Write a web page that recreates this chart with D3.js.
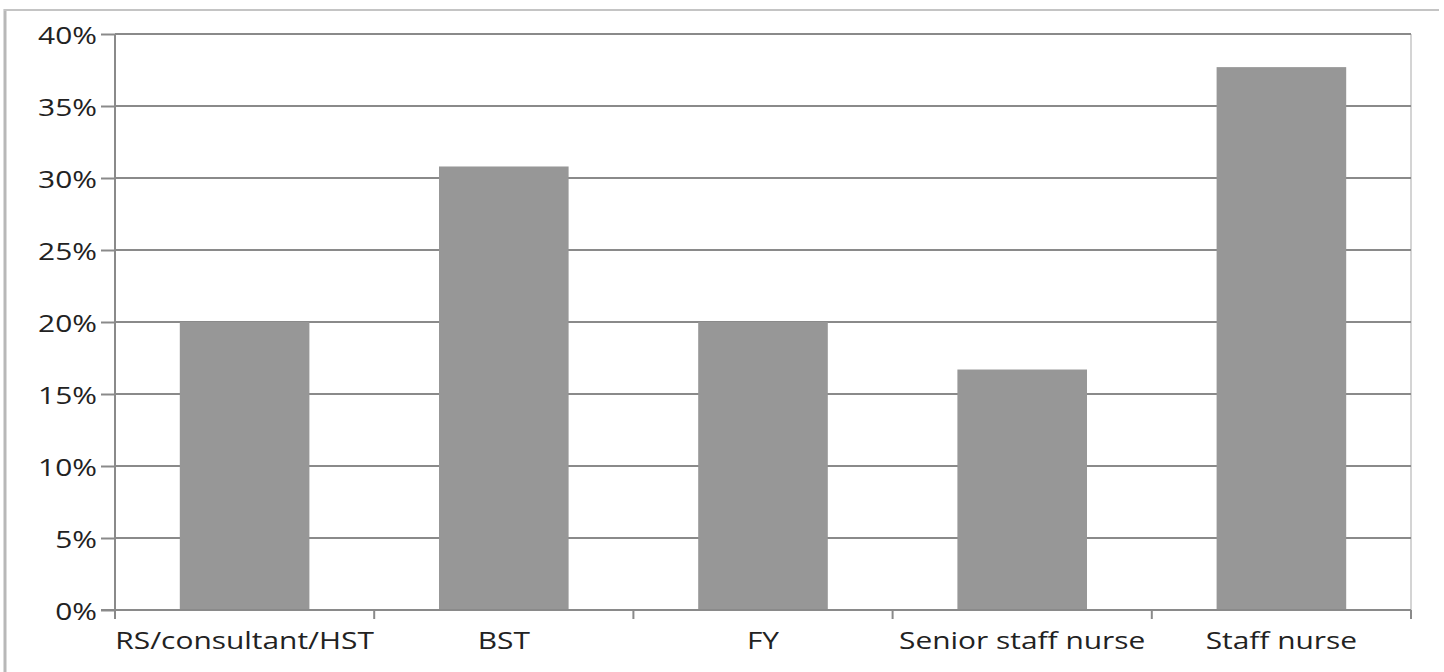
<!DOCTYPE html>
<html>
<head>
<meta charset="utf-8">
<script src="https://cdn.jsdelivr.net/npm/d3@7"></script>
<style>
  html, body { margin: 0; padding: 0; background: #fff; }
  svg { display: block; }
  text { font-family: "Open Sans", "DejaVu Sans", sans-serif; fill: #222; }
</style>
</head>
<body>
<svg id="chart" width="1444" height="672"></svg>
<script>
// Share of respondents by staff grade
const categories = ["RS/consultant/HST", "BST", "FY", "Senior staff nurse", "Staff nurse"];
const shares = [20.0, 30.8, 20.0, 16.7, 37.7];
const yTicks = [0, 5, 10, 15, 20, 25, 30, 35, 40];

const svg = d3.select("#chart");
const W = 1444, H = 672;
const plot = { left: 115, right: 1411, top: 34, bottom: 610 };
const FONT_SIZE = 23;
const STRETCH = 1.3; // wide label lettering

// Outer frame (left and top edges)
svg.append("line").attr("x1", 5).attr("x2", 5).attr("y1", 9).attr("y2", H)
  .attr("stroke", "#b8b8b8").attr("stroke-width", 3);
svg.append("line").attr("x1", 4).attr("x2", 1439).attr("y1", 10).attr("y2", 10)
  .attr("stroke", "#c4c4c4").attr("stroke-width", 2);

const x = d3.scaleBand().domain(categories).range([plot.left, plot.right])
  .paddingInner(0.5).paddingOuter(0.25);
const xEdges = d3.scaleLinear().domain([0, categories.length]).range([plot.left, plot.right]);
const y = d3.scaleLinear().domain([0, 40]).range([plot.bottom, plot.top]);

// Right edge of plot area
svg.append("line").attr("x1", plot.right).attr("x2", plot.right)
  .attr("y1", plot.top).attr("y2", plot.bottom)
  .attr("stroke", "#d4d4d4").attr("stroke-width", 2);

// Horizontal gridlines
svg.append("g").selectAll("line").data(yTicks.filter(d => d > 0)).join("line")
  .attr("x1", plot.left).attr("x2", plot.right)
  .attr("y1", d => y(d)).attr("y2", d => y(d))
  .attr("stroke", "#8a8a8a").attr("stroke-width", 2);

// Bars
svg.append("g").selectAll("rect").data(categories).join("rect")
  .attr("x", d => x(d))
  .attr("width", x.bandwidth())
  .attr("y", (d, i) => y(shares[i]))
  .attr("height", (d, i) => y(0) - y(shares[i]))
  .attr("fill", "#979797");

// Y axis
const yAxis = d3.axisLeft(y).tickValues(yTicks).tickFormat(d => d + "%")
  .tickSize(14).tickPadding(0);
const gy = svg.append("g").attr("transform", `translate(${plot.left},0)`).call(yAxis);
gy.select(".domain").attr("stroke", "#8a8a8a").attr("stroke-width", 2)
  .attr("d", `M0,${plot.top}V${plot.bottom}`);
gy.selectAll(".tick line").attr("stroke", "#8a8a8a").attr("stroke-width", 2);
gy.selectAll(".tick text")
  .attr("x", null).attr("dy", null)
  .attr("font-size", FONT_SIZE).attr("fill", "#222")
  .attr("font-family", "'Open Sans', sans-serif")
  .attr("dominant-baseline", "central")
  .attr("transform", `translate(-18,0) scale(${STRETCH},1)`);

// X axis: baseline, boundary ticks and category labels
const gx = svg.append("g");
gx.append("line").attr("x1", plot.left - 14).attr("x2", plot.right)
  .attr("y1", plot.bottom).attr("y2", plot.bottom)
  .attr("stroke", "#8a8a8a").attr("stroke-width", 2);
gx.selectAll("line.edge").data(d3.range(categories.length + 1)).join("line")
  .attr("class", "edge")
  .attr("x1", d => xEdges(d)).attr("x2", d => xEdges(d))
  .attr("y1", plot.bottom).attr("y2", plot.bottom + 9)
  .attr("stroke", "#8a8a8a").attr("stroke-width", 2);
gx.selectAll("text").data(categories).join("text")
  .attr("transform", d => `translate(${x(d) + x.bandwidth() / 2},${plot.bottom + 39}) scale(${STRETCH},1)`)
  .attr("text-anchor", "middle")
  .attr("font-size", FONT_SIZE)
  .text(d => d);
</script>
</body>
</html>
